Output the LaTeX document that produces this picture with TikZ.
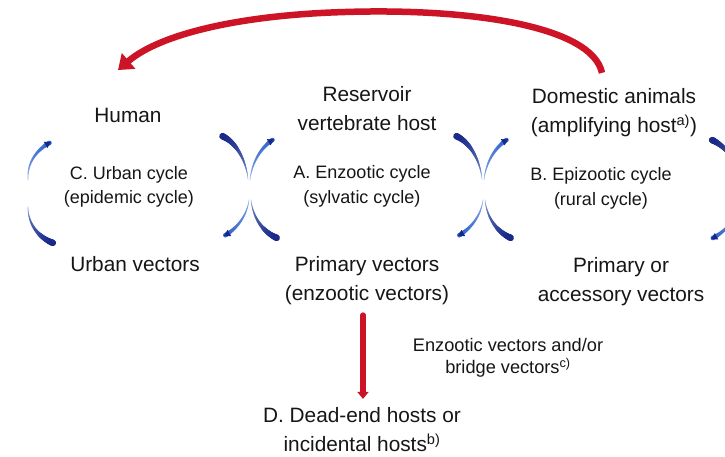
\documentclass[tikz,border=0pt]{standalone}
\usepackage{fontspec}
\setmainfont{Liberation Sans}
\usetikzlibrary{arrows.meta,decorations.markings}
\definecolor{txt}{HTML}{161616}
\definecolor{arcred}{HTML}{CC1426}
\definecolor{navy}{HTML}{18288A}
\definecolor{midblue}{HTML}{2F62CC}
\definecolor{paleblue}{HTML}{A8C4EE}
\tikzset{
  lbl/.style={font=\fontsize{20.8}{29.5}\selectfont, text=txt, align=center, inner sep=0pt},
  sub/.style={font=\fontsize{18}{24.5}\selectfont, text=txt, align=center, inner sep=0pt},
  note/.style={font=\fontsize{18.2}{22.5}\selectfont, text=txt, align=center, inner sep=0pt},
  redarc/.style={draw=arcred, line width=6.5pt, -{Triangle[width=20pt,length=14pt]}},
  redarrow/.style={draw=arcred, line width=5.5pt, line cap=round, -{Triangle[width=11pt,length=7pt]}},
  tailstroke/.style={decorate, decoration={markings,
    mark=between positions 0 and 1 step 0.5pt with {
      \pgfmathsetmacro\ff{\pgfkeysvalueof{/pgf/decoration/mark info/distance from start}/\pgfdecoratedpathlength}
      \pgfmathsetmacro\rr{0.3+3.0*\ff^1.3}
      \pgfmathtruncatemacro\pp{100*\ff^0.5}
      \fill[navy!\pp!paleblue] (0,0) circle (\rr pt);}}},
  arrowstroke/.style={decorate, decoration={markings,
    mark=between positions 0 and 0.97 step 0.5pt with {
      \pgfmathsetmacro\ff{\pgfkeysvalueof{/pgf/decoration/mark info/distance from start}/\pgfdecoratedpathlength}
      \pgfmathsetmacro\rr{0.3+2.0*\ff^1.1}
      \pgfmathtruncatemacro\pp{100*\ff^0.6}
      \fill[midblue!\pp!paleblue] (0,0) circle (\rr pt);},
    mark=at position 0.999 with {\arrow{Triangle[width=7pt,length=6pt,color=navy]}}}},
}
\newcommand\xstrokes{%
  \path[tailstroke]  (248,179) .. controls (246,160) and (236,142) .. (222,136);
  \path[arrowstroke] (250,180) .. controls (252,162) and (261,147) .. (274,139);
  \path[arrowstroke] (249,200) .. controls (247,215) and (238,228) .. (224,236);
  \path[tailstroke]  (251,200) .. controls (253,218) and (263,232) .. (277,238);
}
\begin{document}
\begin{tikzpicture}[x=1pt,y=-1pt]
\useasboundingbox (0,0) rectangle (725,456);
\fill[white] (0,0) rectangle (725,456);
\clip (0,0) rectangle (725,456);

% nodes
\node[lbl] (human) at (128,115.5) {Human};
\node[lbl] (res) at (367,108.5) {Reservoir\\vertebrate host};
\node[lbl] (dom) at (614,112.5) {Domestic animals\\(amplifying host\textsuperscript{a)})};
\node[sub] (cc) at (129,187) {C. Urban cycle\\(epidemic cycle)};
\node[sub] (ca) at (362,186.5) {A. Enzootic cycle\\(sylvatic cycle)};
\node[sub] (cb) at (601,188.5) {B. Epizootic cycle\\(rural cycle)};
\node[lbl] (urb) at (135,264) {Urban vectors};
\node[lbl] (prim) at (367,280.5) {Primary vectors\\(enzootic vectors)};
\node[lbl] (acc) at (621,281.5) {Primary or\\accessory vectors};
\node[note] (enz) at (508,358) {Enzootic vectors and/or\\bridge vectors\textsuperscript{c)}};
\node[lbl] (dead) at (362,429.5) {D. Dead-end hosts or\\incidental hosts\textsuperscript{b)}};

% red connectors
\draw[redarc] ([xshift=-12pt,yshift=15pt]dom.north) .. controls (592,26) and (470,8) .. (345,12)
   .. controls (240,15) and (160,34) .. ([xshift=-10pt,yshift=38pt]human.north);
\draw[redarrow] ([xshift=-4pt,yshift=-10pt]prim.south) -- ([xshift=1pt,yshift=8pt]dead.north);

% blue cycle strokes
\path[arrowstroke] (28,180) .. controls (27,163) and (36,150) .. (51,142);
\path[tailstroke]  (28,207) .. controls (28,224) and (38,237) .. (53,243);
\xstrokes
\begin{scope}[xshift=234pt]\xstrokes\end{scope}
\path[tailstroke]  (738,180) .. controls (737,162) and (727,147) .. (712,140);
\path[arrowstroke] (738,200) .. controls (737,218) and (727,231) .. (711,239);
\end{tikzpicture}
\end{document}
